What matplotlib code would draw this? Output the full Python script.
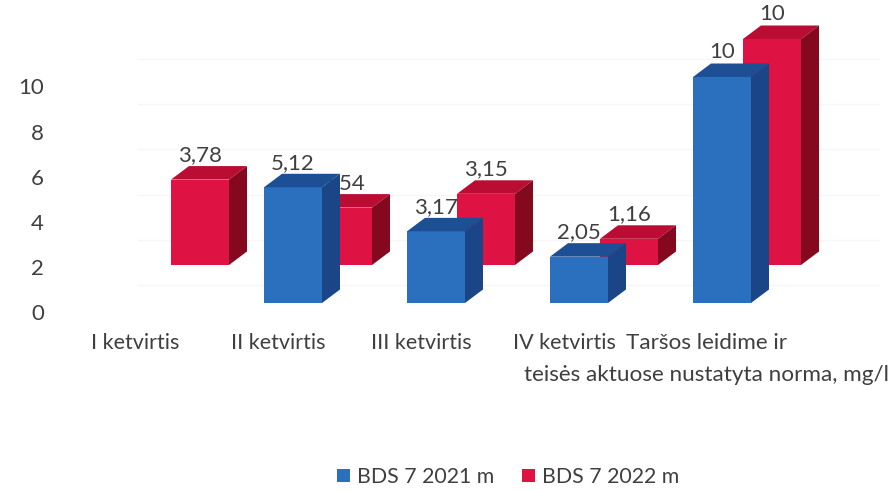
import numpy as np
import matplotlib
matplotlib.use("Agg")
import matplotlib.pyplot as plt
from matplotlib.patches import Polygon

categories = ["I ketvirtis", "II ketvirtis", "III ketvirtis", "IV ketvirtis",
              "Taršos leidime ir\nteisės aktuose nustatyta norma, mg/l"]
values_2021 = [np.nan, 5.12, 3.17, 2.05, 10]
values_2022 = [3.78, 2.54, 3.15, 1.16, 10]
labels_2021 = ["", "5,12", "3,17", "2,05", "10"]
labels_2022 = ["3,78", "2,54", "3,15", "1,16", "10"]
y_ticks = [0, 2, 4, 6, 8, 10]
series_names = ["BDS 7 2021 m", "BDS 7 2022 m"]

plt.rcParams["font.family"] = ["Lato", "DejaVu Sans"]
W, H = 891, 490
PXX, PXY = 143.0, 22.6     # pixels per category / per value unit
X0, Y0 = 121.0, 303.0      # pixel origin of the front baseline
fig = plt.figure(figsize=(W / 100, H / 100), dpi=100, facecolor="white")
ax = fig.add_axes([55 / W, (H - 325) / H, (W - 55) / W, 325 / H])
ax.set_xlim((55 - X0) / PXX, (W - X0) / PXX)
ax.set_ylim((Y0 - 325) / PXY, Y0 / PXY)
ax.patch.set_visible(False)
for s in ax.spines.values():
    s.set_visible(False)

width = 58 / PXX
dx, dy = 18 / PXX, 13.5 / PXY
red_dx, red_dy = 50 / PXX, 38 / PXY
x = np.arange(len(categories))
TEXT = "#3f3f3f"

# faint back-wall gridlines
for t in y_ticks:
    ax.plot([0.12, 5.3], [t + 0.8] * 2, color="#f6f6f6", lw=1, zorder=0)


def box(xl, base, val, front, top, side, label, z):
    bars = ax.bar(xl, val, width=width, bottom=base, align="edge", color=front, lw=0, zorder=z)
    h = base + val
    ax.add_patch(Polygon([(xl, h), (xl + dx, h + dy), (xl + width + dx, h + dy), (xl + width, h)],
                         closed=True, fc=top, ec="none", zorder=z))
    ax.add_patch(Polygon([(xl + width, base), (xl + width + dx, base + dy),
                          (xl + width + dx, h + dy), (xl + width, h)],
                         closed=True, fc=side, ec="none", zorder=z))
    ax.annotate(label, (xl + width / 2, h), xytext=(0, 10.5), textcoords="offset points",
                ha="center", va="bottom", fontsize=16, color=TEXT, zorder=z - 0.5,
                annotation_clip=False)
    return bars


for i in x:
    r = box(i + red_dx, red_dy, values_2022[i], "#de1243", "#bb0c33", "#84091f", labels_2022[i], 2 + i * 2)
    if not np.isnan(values_2021[i]):
        b = box(i, 0, values_2021[i], "#2a70bf", "#1d4f94", "#1a4687", labels_2021[i], 3 + i * 2)

ax.set_yticks(np.array(y_ticks) - 0.42, [str(t) for t in y_ticks])
ax.set_xticks(x + 14 / PXX, categories)
ax.tick_params(axis="y", length=0, pad=8, labelsize=16, labelcolor=TEXT)
ax.tick_params(axis="x", length=0, pad=6, labelsize=15.5, labelcolor=TEXT)
last = ax.get_xticklabels()[-1]
last.set_fontsize(16.2)
last.set_linespacing(1.75)

fig.legend([b, r], series_names, loc="center", bbox_to_anchor=(508 / W, (H - 477) / H),
           ncol=2, frameon=False, fontsize=15.3, handlelength=0.6, handleheight=0.6,
           handletextpad=0.35, columnspacing=1.3, labelcolor=TEXT)
fig.savefig("out.png", dpi=100)
